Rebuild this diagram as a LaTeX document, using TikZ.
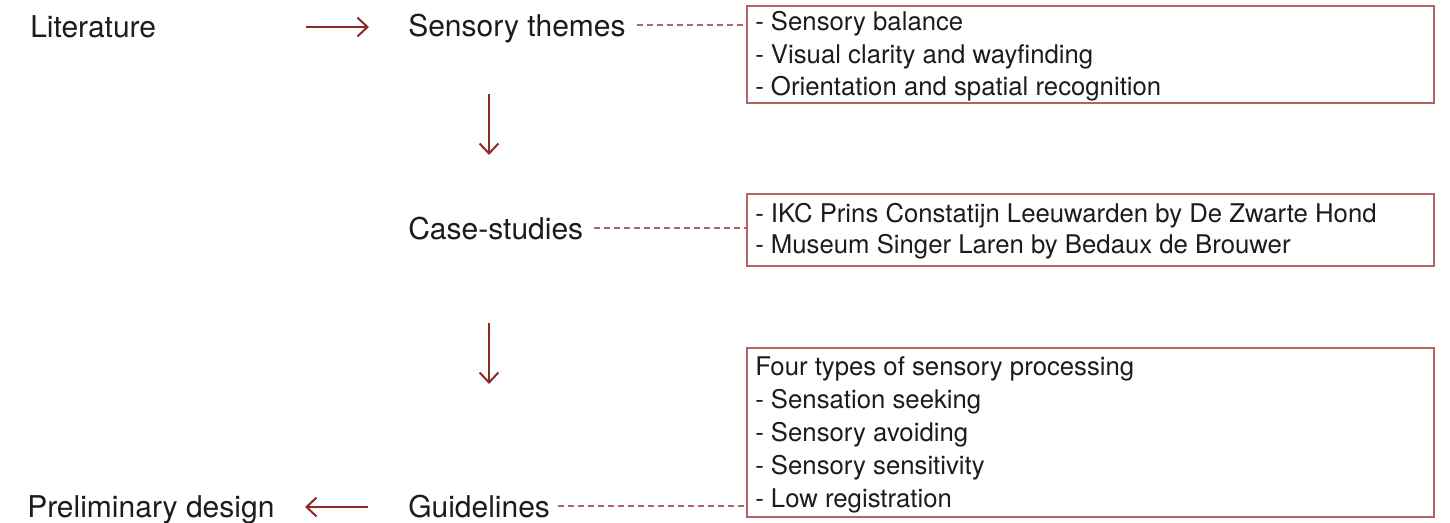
\documentclass[tikz,border=0pt]{standalone}
\usepackage{fontspec}
\setmainfont{TeX Gyre Heros}
\usetikzlibrary{arrows.meta}
\definecolor{arrowred}{RGB}{140,42,42}
\definecolor{boxred}{RGB}{178,100,100}
\definecolor{ink}{RGB}{28,28,28}
\begin{document}
\begin{tikzpicture}[x=0.75pt,y=-0.75pt,
  stage/.style={anchor=base west, inner sep=0pt, text=ink, text height=16pt, text depth=0pt,
                font=\fontsize{22.5}{27}\selectfont},
  item/.style={anchor=base west, inner sep=0pt, text=ink, font=\fontsize{19.3}{24}\selectfont},
  flow/.style={draw=arrowred, line width=1.5pt,
               -{Straight Barb[length=7.5pt,width=14pt,line width=1.5pt]}},
  link/.style={draw=boxred, line width=1.3pt, dash pattern=on 4.5pt off 3pt},
  infobox/.style={draw=boxred, line width=1.4pt, inner sep=0pt, anchor=north west,
                  minimum width=515.25pt}]
\useasboundingbox (0,0) rectangle (1450,522);

% stages
\node[stage] (lit) at (30,37) {Literature};
\node[stage] (sens) at (408,36) {Sensory themes};
\node[stage] (case) at (408,239) {Case-studies};
\node[stage] (guide) at (408,517) {Guidelines};
\node[stage] (prelim) at (27,517) {Preliminary design};

% boxes
\node[infobox, minimum height=72.75pt] (box1) at (746,5) {};
\node[infobox, minimum height=54pt] (box2) at (746,193) {};
\node[infobox, minimum height=126.75pt] (box3) at (746,347) {};

% box texts
\node[item] (b1a) at (755,30) {- Sensory balance};
\node[item] (b1b) at (755,63) {- Visual clarity and wayfinding};
\node[item] (b1c) at (755,95) {- Orientation and spatial recognition};

\node[item] (b2a) at (755,222) {- IKC Prins Constatijn Leeuwarden by De Zwarte Hond};
\node[item] (b2b) at (755,253) {- Museum Singer Laren by Bedaux de Brouwer};

\node[item] (b3a) at (755,375) {Four types of sensory processing};
\node[item] (b3b) at (755,408) {- Sensation seeking};
\node[item] (b3c) at (755,441) {- Sensory avoiding};
\node[item] (b3d) at (755,474) {- Sensory sensitivity};
\node[item] (b3e) at (755,507) {- Low registration};

% arrow end points
\coordinate (h1s) at (306,27);
\coordinate (h1e) at (369,27);
\coordinate (v1s) at (489,94);
\coordinate (v1e) at (489,155);
\coordinate (v2s) at (489,323);
\coordinate (v2e) at (489,384);
\coordinate (h2s) at (368,507);
\coordinate (h2e) at (305,507);

% arrows
\draw[flow] (h1s) -- (h1e);
\draw[flow] (v1s) -- (v1e);
\draw[flow] (v2s) -- (v2e);
\draw[flow] (h2s) -- (h2e);

% dashed links
\draw[link] ([xshift=8pt]sens.east) -- (sens.east -| box1.west);
\draw[link] ([xshift=8pt]case.east) -- (case.east -| box2.west);
\draw[link] ([xshift=6pt]guide.east) -- (guide.east -| box3.west);
\end{tikzpicture}
\end{document}
